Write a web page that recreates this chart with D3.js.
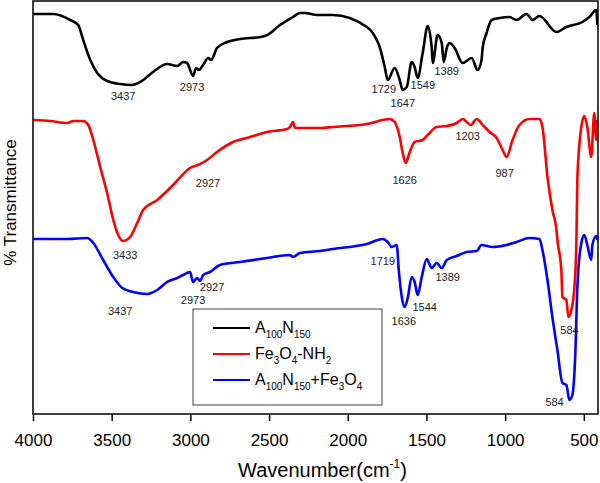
<!DOCTYPE html>
<html><head><meta charset="utf-8">
<script src="https://cdn.jsdelivr.net/npm/d3@7"></script>
<style>body{margin:0;background:#fff}svg{display:block}text{font-family:Arial,"Liberation Sans",sans-serif}</style>
</head><body><svg id="c" width="600" height="483"></svg>
<script>
// ---- data (wavenumber cm^-1, relative % transmittance) ----
const blackWn = [4000,3871,3763,3713,3681,3636,3592,3529,3446,3370,3319,3237,3148,3084,3046,3021,2983,2964,2945,2919,2887,2868,2831,2767,2685,2555,2510,2431,2348,2304,2272,2196,2095,1879,1841,1797,1765,1746,1702,1670,1651,1625,1594,1575,1556,1524,1492,1467,1460,1429,1403,1390,1371,1352,1321,1270,1213,1175,1150,1143,1118,1086,1035,972,928,864,826,782,674,611,509,465,421,414];
const blackT  = [100,100,98.5,97.25,93.5,88.5,85.25,83.25,82.5,82.25,83,85.5,87.5,87,88,87.75,84.5,86.5,86,87.25,89,88.5,91.5,93,93.75,94.25,94.75,97.25,99.25,100.25,100.25,99.75,99.75,96.75,95.25,91.75,86.75,83.5,86.5,83.5,81,81.75,88,86.75,84,90.25,97,91.75,87.75,94.75,92.75,88,91.5,92.75,91.5,87.75,89,86,88.5,91.5,95.25,98.5,99,99.25,98.5,100,98.5,99.5,95.5,96.75,98,99.25,101,97.25];
const redWn = [4000,3890,3782,3744,3681,3649,3617,3573,3529,3490,3459,3427,3383,3338,3300,3211,3110,3002,2938,2894,2831,2729,2621,2513,2386,2367,2348,2335,2304,2177,2095,1879,1733,1702,1670,1651,1632,1606,1575,1524,1492,1435,1371,1308,1270,1219,1181,1143,1099,1054,1016,991,953,909,845,782,763,731,700,674,668,643,636,611,598,579,560,547,541,516,497,478,453,434,421,414];
const redT  = [73.5,73.25,72.75,73.25,73.25,72.25,68.5,61.75,55.25,48.5,44.75,43.25,44.25,47.75,51,53.5,57.25,61.5,62.5,63.5,65.5,68,69.25,70.5,71.25,71.75,73,71.5,71.5,71.5,71.75,72.5,73.75,73,69.25,65.25,62.75,65.5,68,68.5,69.75,71.75,72,72.75,73.75,72.25,73.75,72.25,70.5,69,66,64.25,68.5,72.25,73.75,73.75,71.75,59.25,51,46,43.5,36,29.25,28.5,24.25,26,31.75,43.5,59.25,71.75,74.5,71.75,64.25,75.25,68.5,73.5];
const blueWn = [4000,3782,3655,3617,3554,3490,3433,3364,3275,3211,3148,3084,3046,3002,2983,2957,2938,2919,2875,2812,2685,2513,2367,2348,2304,2177,2095,1879,1777,1746,1721,1689,1676,1657,1638,1619,1594,1575,1556,1530,1498,1467,1435,1403,1371,1308,1244,1181,1150,1080,991,928,845,782,763,731,700,668,636,611,592,573,554,541,516,497,478,453,446,421,414];
const blueT  = [43.75,43.75,44,42.75,38.5,34.25,31.5,30.5,30,31,33,34,34.75,35.5,33,34,33.25,34.75,35.5,37.25,38,39,39.75,39.25,40.25,40.75,41.25,42.5,43.75,43,41.75,42.25,36,29.25,26.75,29,34.25,33,29.75,34.25,38.75,36.5,37.75,36.5,38.5,39.5,40.5,40.75,42.25,41.75,42.25,43,44,43.75,41,33.5,24.25,16,7.75,7.25,3.5,4.75,15.25,31.75,42.75,44.75,42.25,38.5,42.25,44.5,43.5];

// peak annotations: label, wavenumber position, transmittance position
const peakLabels = ["3437","2973","1729","1647","1549","1389","3433","2927","1626","1203","987","584","3437","2973","2927","1719","1636","1544","1389","584"];
const peakWn     = [3427,2989,1771,1650,1523,1371,3414,2888,1638,1238,1003,591,3446,2983,2862,1777,1644,1511,1365,686];
const peakT      = [78.5,80.75,80.25,76.75,81.25,84.75,38.75,56.75,57.5,68.5,59.25,20,24.75,27.5,30.75,37.25,22.25,25.75,33.25,2];

const xTicks = [4000,3500,3000,2500,2000,1500,1000,500];
const seriesNames = ["black","red","blue"];
const seriesColors = ["#000000","#ff0000","#0000ff"];
// legend label parts: [text, isSubscript]
const legendLabels = [
  [["A",0],["100",1],["N",0],["150",1]],
  [["Fe",0],["3",1],["O",0],["4",1],["-NH",0],["2",1]],
  [["A",0],["100",1],["N",0],["150",1],["+Fe",0],["3",1],["O",0],["4",1]]
];

// ---- drawing ----
const svg = d3.select("#c");
const L = 33, R = 598, T = 1, B = 414;
const x = d3.scaleLinear().domain([4000, 410]).range([L, R]);
const y = d3.scaleLinear().domain([0, 103.25]).range([B, T]);

const series = [
  blackWn.map((w,i)=>[w, blackT[i]]),
  redWn.map((w,i)=>[w, redT[i]]),
  blueWn.map((w,i)=>[w, blueT[i]])
];
const line = d3.line().x(d=>x(d[0])).y(d=>y(d[1])).curve(d3.curveMonotoneX);

svg.append("defs").append("clipPath").attr("id","clip")
  .append("rect").attr("x",L).attr("y",T).attr("width",R-L).attr("height",B-T);

const g = svg.append("g").attr("clip-path","url(#clip)");
series.forEach((s,i)=>{
  g.append("path").datum(s).attr("d", line)
    .attr("fill","none").attr("stroke", seriesColors[i])
    .attr("stroke-width", 2.6).attr("stroke-linejoin","round");
});

// frame
svg.append("rect").attr("x",L).attr("y",T).attr("width",R-L).attr("height",B-T)
  .attr("fill","none").attr("stroke","#000").attr("stroke-width",1.5);

// x axis
const xa = svg.append("g").attr("transform",`translate(0,${B})`)
  .call(d3.axisBottom(x).tickValues(xTicks).tickFormat(d3.format("d")).tickSize(7).tickSizeOuter(0));
xa.select(".domain").remove();
xa.selectAll(".tick line").attr("stroke","#000").attr("stroke-width",1.5);
xa.selectAll(".tick text").attr("y",32).attr("dy",0).attr("font-size",17).attr("fill","#000")
  .style("font-family","Arial, 'Liberation Sans', sans-serif");

// axis titles
const xt = svg.append("text").attr("x",(L+R)/2+7).attr("y",477).attr("text-anchor","middle")
  .attr("font-size",20).attr("fill","#000");
xt.append("tspan").text("Wavenumber(cm");
xt.append("tspan").text("-1").attr("font-size",12).attr("dy",-9);
xt.append("tspan").text(")").attr("dy",9);

svg.append("text").attr("transform",`translate(16,${(T+B)/2-5}) rotate(-90)`)
  .attr("text-anchor","middle").attr("font-size",17).attr("fill","#000").text("% Transmittance");

// peak labels
svg.append("g").selectAll("text").data(peakLabels).join("text")
  .attr("x",(d,i)=>x(peakWn[i])).attr("y",(d,i)=>y(peakT[i]))
  .attr("text-anchor","middle").attr("font-size",11).attr("fill","#222").text(d=>d);

// legend
const lg = svg.append("g");
lg.append("rect").attr("x",193).attr("y",309).attr("width",189).attr("height",96)
  .attr("fill","#fff").attr("stroke","#444").attr("stroke-width",1);
legendLabels.forEach((parts,i)=>{
  const yy = 328 + i*26;
  lg.append("line").attr("x1",213).attr("x2",250).attr("y1",yy).attr("y2",yy)
    .attr("stroke",seriesColors[i]).attr("stroke-width",2);
  const t = lg.append("text").attr("x",255).attr("y",yy+5).attr("font-size",16).attr("fill","#000");
  let prevSub = 0;
  parts.forEach(([s,sub])=>{
    const ts = t.append("tspan").text(s);
    if (sub) ts.attr("font-size",10);
    const dy = (sub?5:0) - (prevSub?5:0);
    if (dy) ts.attr("dy",dy);
    prevSub = sub;
  });
});
</script></body></html>
